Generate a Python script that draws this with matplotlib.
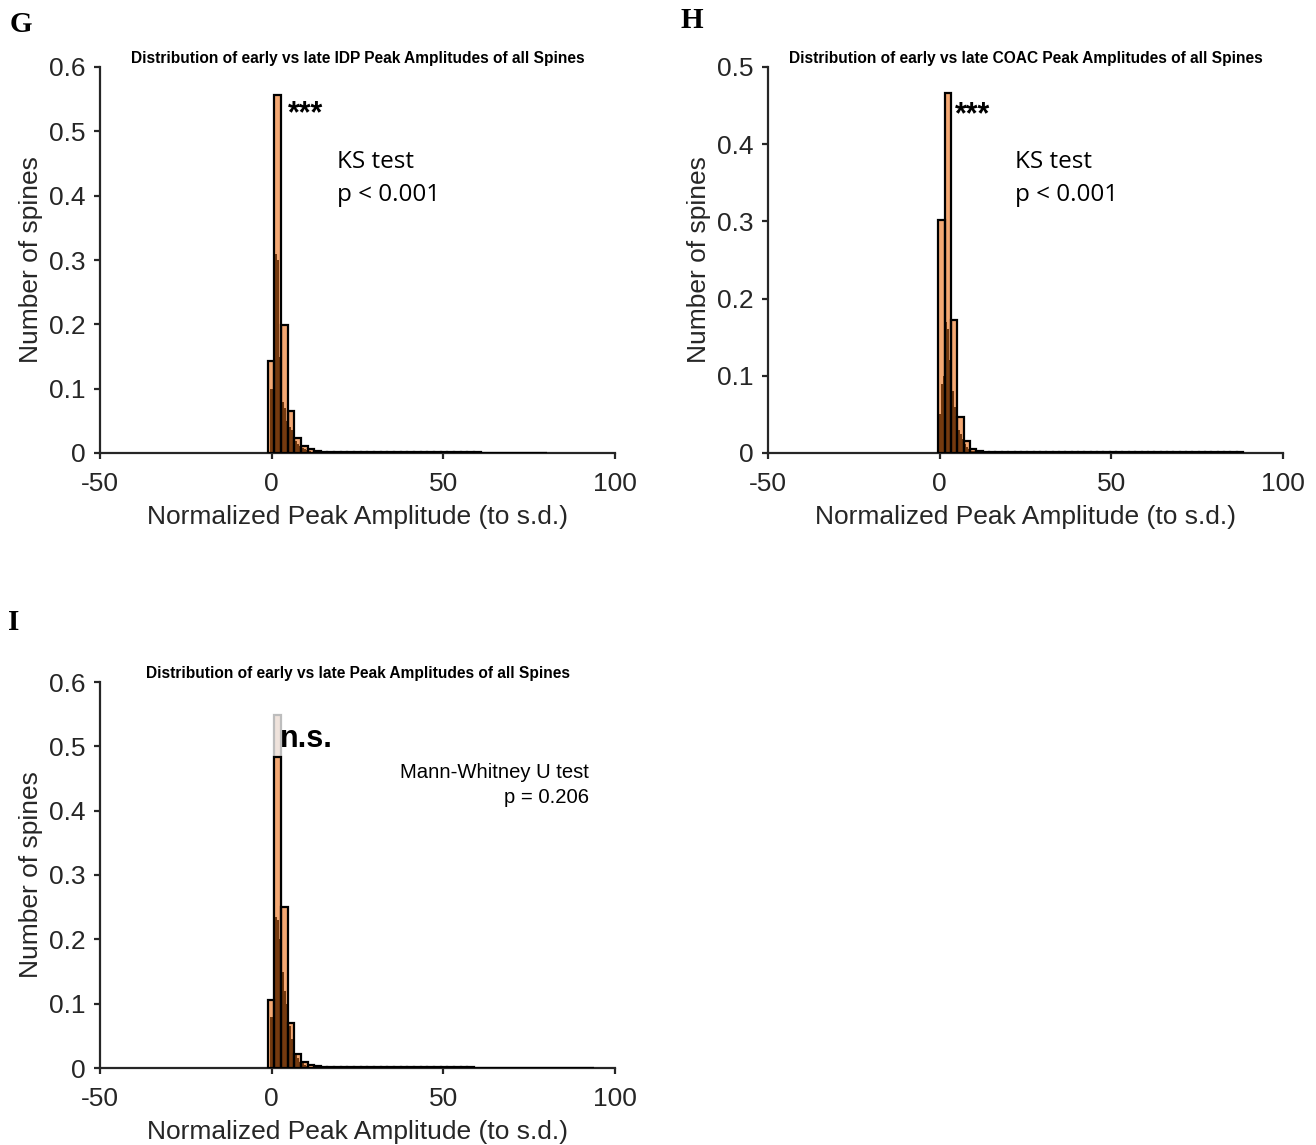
import numpy as np
import matplotlib
matplotlib.use("Agg")
import matplotlib.pyplot as plt

plt.rcParams['font.family'] = ['Liberation Sans', 'DejaVu Sans']

# ---------------- data ----------------
# Panel G: IDP events
g_late = [0.143, 0.557, 0.199, 0.065, 0.024, 0.011, 0.006, 0.003, 0.0022, 0.0018,
          0.0015, 0.0013, 0.0012, 0.0011, 0.0010, 0.0010, 0.0010, 0.0009, 0.0009, 0.0009,
          0.0009, 0.0009, 0.0008, 0.0008, 0.0008, 0.0008, 0.0008, 0.0008, 0.0008, 0.0008,
          0.0008, 0.0008, 0.0007, 0.0007, 0.0007, 0.0007, 0.0007, 0.0007, 0.0007, 0.0007,
          0.0007, 0.0007]
g_early = [0.10, 0.25, 0.31, 0.30, 0.15, 0.08, 0.07, 0.05, 0.04, 0.035,
           0.025, 0.018, 0.014, 0.011, 0.008, 0.006, 0.004, 0.003, 0.002, 0.0015, 0.001]
g_peak = [0.0, 0.0]

# Panel H: COAC events
h_late = [0.302, 0.466, 0.172, 0.046, 0.015, 0.005, 0.0025, 0.0018, 0.0015, 0.0013,
          0.0012, 0.0011, 0.0010, 0.0010, 0.0010, 0.0009, 0.0009, 0.0009, 0.0009, 0.0009,
          0.0008, 0.0008, 0.0008, 0.0008, 0.0008, 0.0008, 0.0008, 0.0008, 0.0008, 0.0008,
          0.0007, 0.0007, 0.0007, 0.0007, 0.0007, 0.0007, 0.0007, 0.0007, 0.0007, 0.0007,
          0.0007, 0.0007, 0.0007, 0.0007, 0.0007, 0.0007, 0.0007, 0.0007]
h_early = [0.05, 0.09, 0.10, 0.17, 0.16, 0.12, 0.08, 0.06, 0.04, 0.03,
           0.025, 0.018, 0.012, 0.008, 0.005, 0.003, 0.002, 0.001]
h_peak = [0.0, 0.0]

# Panel I: all events
i_late = [0.106, 0.483, 0.251, 0.0705, 0.021, 0.009, 0.004, 0.0025, 0.0018, 0.0015,
          0.0013, 0.0012, 0.0011, 0.0010, 0.0010, 0.0010, 0.0009, 0.0009, 0.0009, 0.0009,
          0.0009, 0.0008, 0.0008, 0.0008, 0.0008, 0.0008, 0.0008, 0.0008, 0.0008, 0.0008,
          0.0008, 0.0007, 0.0007, 0.0007, 0.0007, 0.0007, 0.0007, 0.0007, 0.0007, 0.0007,
          0.0007, 0.0007, 0.0007, 0.0007, 0.0007, 0.0007, 0.0007, 0.0007, 0.0007]
i_early = [0.08, 0.18, 0.235, 0.23, 0.20, 0.15, 0.12, 0.10, 0.065, 0.045,
           0.03, 0.02, 0.015, 0.01, 0.007, 0.005, 0.003, 0.002, 0.001]
i_peak = [0.0, 0.549]

x_ticks = [-50, 0, 50, 100]
x_label = "Normalized Peak Amplitude (to s.d.)"
y_label = "Number of spines"

ORANGE = "#F3A873"
BROWN = "#6A3107"
AXCOL = "#262626"


def draw_panel(ax, late, early, peak, coarse, fine, ymax, yticks, title):
    c0, cw = coarse
    f0, fw = fine
    edges = c0 + cw * np.arange(len(late) + 1)
    # pale overlay bar behind the peak
    if max(peak) > 0:
        ax.bar(edges[:len(peak)], peak, width=cw, align='edge',
               color="#EFE3DC", edgecolor="#BDBDBD", linewidth=1.6, zorder=1)
    ax.bar(edges[:-1], late, width=cw, align='edge', color=ORANGE,
           edgecolor='none', zorder=2)
    fedges = f0 + fw * np.arange(len(early) + 1)
    ax.bar(fedges[:-1], early, width=fw, align='edge', color=BROWN,
           alpha=0.92, edgecolor='none', zorder=3)
    ax.bar(edges[:-1], late, width=cw, align='edge', color='none',
           edgecolor='black', linewidth=1.6, zorder=4)
    ax.set_xlim(-50, 100)
    ax.set_ylim(0, ymax)
    ax.set_xticks(x_ticks)
    ax.set_xticklabels([str(t) for t in x_ticks])
    ax.set_yticks(yticks)
    ax.set_yticklabels(["0"] + [f"{t:.1f}" for t in yticks[1:]])
    for s in ('top', 'right'):
        ax.spines[s].set_visible(False)
    for s in ('left', 'bottom'):
        ax.spines[s].set_color(AXCOL)
        ax.spines[s].set_linewidth(1.6)
        ax.spines[s].set_zorder(0)
    ax.tick_params(direction='out', length=4, width=1.6, color=AXCOL,
                   labelsize=19, labelcolor=AXCOL)
    ax.tick_params(axis='x', pad=9.5)
    ax.tick_params(axis='y', pad=6.5)
    ax.set_xlabel(x_label, fontsize=19, color=AXCOL, labelpad=7)
    ax.set_ylabel(y_label, fontsize=19, color=AXCOL, labelpad=4)
    ax.set_title(title, fontsize=11.2, fontweight='bold', pad=3)


fig = plt.figure(figsize=(13.16, 11.45), dpi=100)
W, H = 1316, 1145


def axes_px(x0, x1, ytop, ybot):
    return fig.add_axes([x0 / W, 1 - ybot / H, (x1 - x0) / W, (ybot - ytop) / H])


axG = axes_px(100, 615, 67, 453)
axH = axes_px(768, 1283, 67, 453)
axI = axes_px(100, 615, 682, 1068)

draw_panel(axG, g_late, g_early, g_peak, (-1.2, 1.94), (-0.35, 0.65), 0.6,
           [0, 0.1, 0.2, 0.3, 0.4, 0.5, 0.6],
           "Distribution of early vs late IDP Peak Amplitudes of all Spines")
draw_panel(axH, h_late, h_early, h_peak, (-0.4, 1.85), (-0.3, 0.62), 0.5,
           [0, 0.1, 0.2, 0.3, 0.4, 0.5],
           "Distribution of early vs late COAC Peak Amplitudes of all Spines")
draw_panel(axI, i_late, i_early, i_peak, (-1.2, 1.94), (-0.35, 0.65), 0.6,
           [0, 0.1, 0.2, 0.3, 0.4, 0.5, 0.6],
           "Distribution of early vs late Peak Amplitudes of all Spines")

# statistics annotations
axG.text(4.6, 0.527, "***", fontsize=22, fontweight='bold', va='center', ha='left')
axG.text(19.0, 0.453, "KS test", fontsize=17.5, family='Open Sans', va='center')
axG.text(19.0, 0.401, "p < 0.001", fontsize=17.5, family='Open Sans', va='center')

axH.text(4.4, 0.438, "***", fontsize=22, fontweight='bold', va='center', ha='left')
axH.text(21.9, 0.377, "KS test", fontsize=17.5, family='Open Sans', va='center')
axH.text(21.9, 0.334, "p < 0.001", fontsize=17.5, family='Open Sans', va='center')

axI.text(2.3, 0.512, "n.s.", fontsize=22, fontweight='bold', va='center', ha='left')
axI.text(92.4, 0.460, "Mann-Whitney U test", fontsize=14.6, ha='right', va='center')
axI.text(92.4, 0.421, "p = 0.206", fontsize=14.6, ha='right', va='center')

# panel letters
for lab, (px, py) in {"G": (21, 24), "H": (692, 20), "I": (14, 623)}.items():
    fig.text(px / W, 1 - py / H, lab, fontsize=21, fontweight='bold',
             family='Liberation Serif', ha='center', va='center')

fig.savefig("out.png", dpi=100)
